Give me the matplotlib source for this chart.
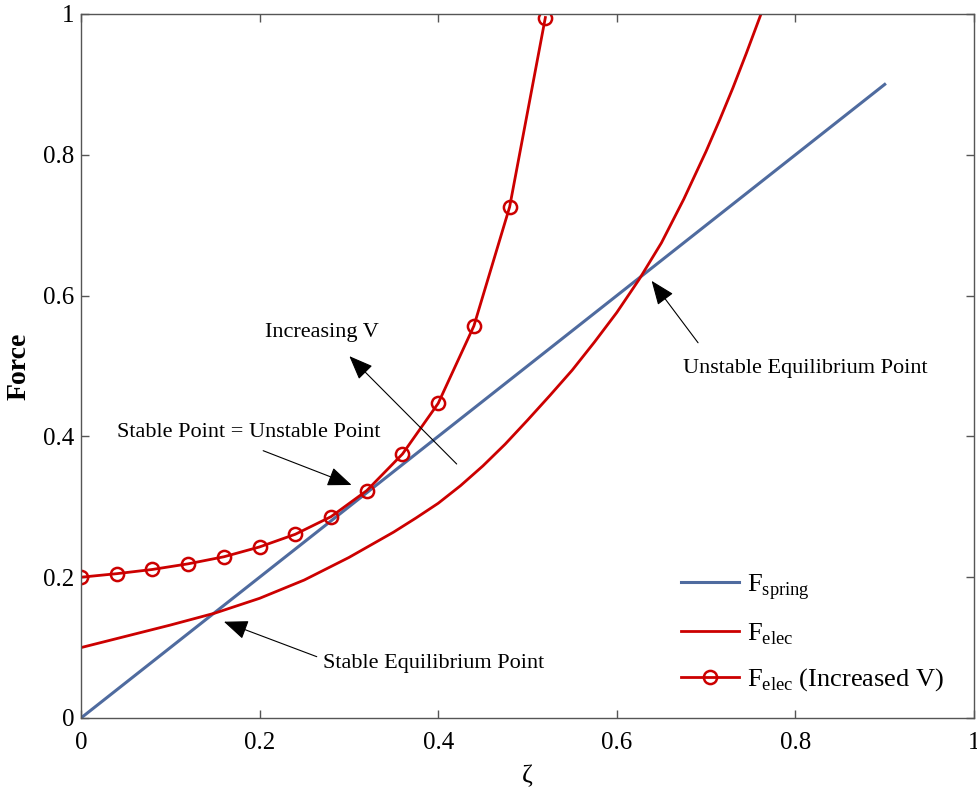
import numpy as np
import matplotlib.pyplot as plt

plt.rcParams['font.family'] = ['Liberation Serif', 'DejaVu Serif']
plt.rcParams['mathtext.fontset'] = 'custom'
plt.rcParams['mathtext.rm'] = 'Liberation Serif'

# data
zeta_spring = [0.0, 0.9]
f_spring = [0.0, 0.9]

zeta_elec = [0.0, 0.05, 0.10, 0.15, 0.20, 0.25, 0.30, 0.35, 0.375, 0.40, 0.425,
             0.45, 0.475, 0.50, 0.525, 0.55, 0.575, 0.60, 0.625, 0.65, 0.675,
             0.70, 0.715, 0.73, 0.745, 0.7615]
f_elec = [0.100, 0.116, 0.132, 0.149, 0.170, 0.196, 0.228, 0.264, 0.284, 0.305, 0.330,
          0.358, 0.389, 0.423, 0.458, 0.494, 0.534, 0.576, 0.623, 0.675, 0.737,
          0.805, 0.849, 0.895, 0.944, 1.0]

zeta_incr = [0.0, 0.04, 0.08, 0.12, 0.16, 0.20, 0.24, 0.28, 0.32, 0.36,
             0.40, 0.44, 0.48, 0.52]
f_incr = [0.200, 0.205, 0.211, 0.219, 0.229, 0.243, 0.261, 0.286, 0.323, 0.375,
          0.447, 0.557, 0.726, 0.995]

ticks = [0, 0.2, 0.4, 0.6, 0.8, 1]
tick_labels = ['0', '0.2', '0.4', '0.6', '0.8', '1']

blue = '#4F6B9F'
red = '#CC0000'

fig = plt.figure(figsize=(9.77, 7.96), dpi=100)
ax = fig.add_axes([81/977, 78/796, 893/977, 704/796])

ax.plot(zeta_spring, f_spring, color=blue, lw=2.2, label=r'F$_{\mathrm{spring}}$')
ax.plot(zeta_elec, f_elec, color=red, lw=2.0, label=r'F$_{\mathrm{elec}}$')
ax.plot(zeta_incr, f_incr, color=red, lw=2.0, marker='o', ms=9.5, mfc='none',
        mew=1.8, label=r'F$_{\mathrm{elec}}$ (Increased V)')

ax.set_xlim(0, 1)
ax.set_ylim(0, 1)
ax.set_xticks(ticks)
ax.set_xticklabels(tick_labels)
ax.set_yticks(ticks)
ax.set_yticklabels(tick_labels)
ax.tick_params(direction='in', length=6, width=1, color='#555555',
               labelsize=18, top=True, right=True)
ax.tick_params(axis='x', pad=10)
ax.tick_params(axis='y', pad=5)
for s in ax.spines.values():
    s.set_color('#555555')
    s.set_linewidth(1.0)

ax.set_xlabel('ζ', fontsize=19, labelpad=8)
ax.set_ylabel('Force', fontsize=20, fontweight='bold', labelpad=8)

arr = dict(arrowstyle='-|>,head_length=0.75,head_width=0.3', color='black',
           lw=0.8, mutation_scale=20, shrinkA=0, shrinkB=0)
ax.annotate('', xy=(0.3005, 0.514), xytext=(0.4207, 0.3608), arrowprops=arr)
ax.text(0.2695, 0.547, 'Increasing V', fontsize=16, ha='center', va='center')

ax.annotate('', xy=(0.303, 0.331), xytext=(0.204, 0.3797), arrowprops=arr)
ax.text(0.188, 0.405, 'Stable Point = Unstable Point', fontsize=16,
        ha='center', va='center')

ax.annotate('', xy=(0.639, 0.621), xytext=(0.691, 0.533), arrowprops=arr)
ax.text(0.8113, 0.497, 'Unstable Equilibrium Point', fontsize=16,
        ha='center', va='center')

ax.annotate('', xy=(0.160, 0.1368), xytext=(0.264, 0.0871), arrowprops=arr)
ax.text(0.3947, 0.0781, 'Stable Equilibrium Point', fontsize=16,
        ha='center', va='center')

ax.legend(loc='upper left', bbox_to_anchor=(0.672, 0.208), frameon=False,
          fontsize=19, borderpad=0, handlelength=2.2, handletextpad=0.3,
          labelspacing=0.75, borderaxespad=0)

fig.savefig('out.png', dpi=100)
